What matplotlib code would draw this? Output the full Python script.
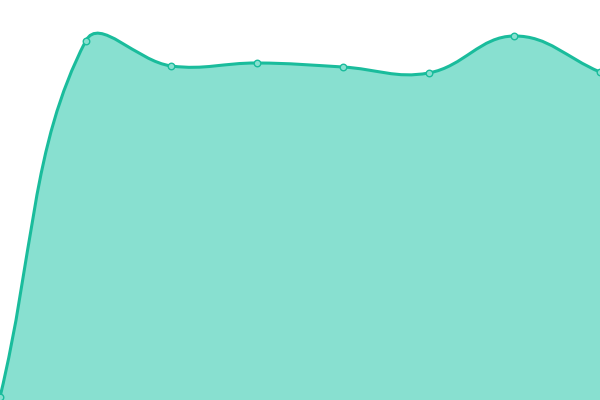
import numpy as np
import matplotlib
matplotlib.use("Agg")
import matplotlib.pyplot as plt
from matplotlib.path import Path
from matplotlib.patches import PathPatch

# values (height above the bottom edge, in pixels)
labels = ["1", "2", "3", "4", "5", "6", "7", "8"]
values = [3, 359, 334, 337, 333, 327, 364, 328]

line_color = "#1abc9c"
fill_color = "#88e0d0"
tension = 0.4

x = np.linspace(0, 600, len(values))
y = np.array(values, dtype=float)
pts = np.column_stack([x, y])


def control_points(pts, t):
    n = len(pts)
    cps = []
    for i in range(n):
        prev = pts[max(i - 1, 0)]
        cur = pts[i]
        nxt = pts[min(i + 1, n - 1)]
        d01 = np.hypot(*(cur - prev))
        d12 = np.hypot(*(nxt - cur))
        tot = d01 + d12
        s01 = d01 / tot if tot else 0
        s12 = d12 / tot if tot else 0
        cp_prev = cur - t * s01 * (nxt - prev)
        cp_next = cur + t * s12 * (nxt - prev)
        cp_prev[1] = np.clip(cp_prev[1], 0, 400)
        cp_next[1] = np.clip(cp_next[1], 0, 400)
        cps.append((cp_prev, cp_next))
    return cps


cps = control_points(pts, tension)
verts = [pts[0]]
codes = [Path.MOVETO]
for i in range(1, len(pts)):
    verts += [cps[i - 1][1], cps[i][0], pts[i]]
    codes += [Path.CURVE4] * 3

fig = plt.figure(figsize=(6, 4), dpi=100)
ax = fig.add_axes([0, 0, 1, 1])
ax.set_xlim(0, 600)
ax.set_ylim(0, 400)
ax.axis("off")

fill_verts = verts + [(x[-1], 0), (x[0], 0), verts[0]]
fill_codes = codes + [Path.LINETO, Path.LINETO, Path.CLOSEPOLY]
ax.add_patch(PathPatch(Path(fill_verts, fill_codes), facecolor=fill_color,
                       edgecolor="none", zorder=1))
ax.add_patch(PathPatch(Path(verts, codes), facecolor="none",
                       edgecolor=line_color, linewidth=2.2, zorder=2))
ax.scatter(x, y, s=22, facecolor=fill_color, edgecolor=line_color,
           linewidth=1, zorder=3, clip_on=False)

fig.savefig("out.png", dpi=100)
